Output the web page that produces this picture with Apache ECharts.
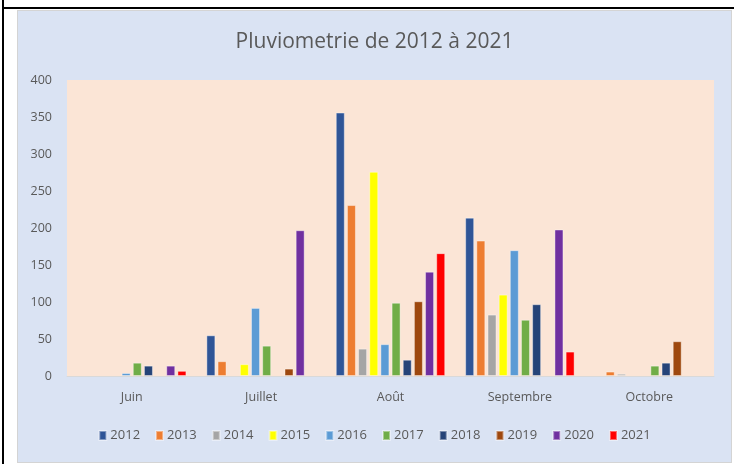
<!DOCTYPE html>
<html>
<head>
<meta charset="utf-8">
<script src="https://cdn.jsdelivr.net/npm/echarts@6/dist/echarts.min.js"></script>
<style>
  html, body { margin: 0; padding: 0; background: #ffffff; }
  body { width: 735px; height: 464px; position: relative; overflow: hidden; }
  /* bordures du tableau autour du graphique */
  .bord-gauche { position: absolute; left: 2px; top: 0; width: 2px; height: 464px; background: #000; }
  .bord-haut { position: absolute; left: 2px; top: 7px; width: 732px; height: 2px; background: #000; }
  #chart {
    position: absolute; left: 17px; top: 10px; width: 713px; height: 451px;
    background: #dae3f3; border: 1px solid #d4d4d4;
  }
</style>
</head>
<body>
<div class="bord-gauche"></div>
<div class="bord-haut"></div>
<div id="chart"></div>
<script>
// mois (categories)
const mois = ["Juin", "Juillet", "Août", "Septembre", "Octobre"];
// valeurs de pluie par annee (mm), null = pas de barre
const annees = ["2012", "2013", "2014", "2015", "2016", "2017", "2018", "2019", "2020", "2021"];
const pluie2012 = [null, 55, 356, 214, null];
const pluie2013 = [null, 20, 231, 183, 6];
const pluie2014 = [null, null, 37, 83, 3];
const pluie2015 = [null, 16, 276, 110, null];
const pluie2016 = [4, 92, 43, 170, null];
const pluie2017 = [18, 41, 99, 76, 14];
const pluie2018 = [14, null, 22, 97, 18];
const pluie2019 = [null, 10, 101, null, 47];
const pluie2020 = [14, 197, 141, 198, null];
const pluie2021 = [7, null, 166, 33, null];
const valeursY = [0, 50, 100, 150, 200, 250, 300, 350, 400];

const toutesValeurs = [pluie2012, pluie2013, pluie2014, pluie2015, pluie2016,
  pluie2017, pluie2018, pluie2019, pluie2020, pluie2021];
const couleurs = ["#2f5597", "#ed7d31", "#a5a5a5", "#ffff00", "#5b9bd5",
  "#70ad47", "#264478", "#9e480e", "#7030a0", "#ff0000"];

const chartInstance = echarts.init(document.getElementById("chart"), null, { renderer: "canvas" });

const series = annees.map((an, i) => {
  return {
    name: an,
    type: "bar",
    data: toutesValeurs[i],
    barWidth: 9,
    barGap: "24%",
    itemStyle: {
      color: couleurs[i],
      borderColor: "rgba(255,255,255,0.4)",
      borderWidth: 1
    }
  };
});

const option = {
  animation: false,
  textStyle: { fontFamily: "Open Sans" },
  title: {
    text: "Pluviometrie de 2012 à 2021",
    left: "center",
    top: 16,
    textStyle: {
      fontFamily: "Open Sans",
      fontSize: 21,
      fontWeight: "normal",
      color: "#595959"
    }
  },
  grid: {
    left: 49,
    top: 69,
    right: 17,
    bottom: 86,
    show: true,
    backgroundColor: "#fbe5d6",
    borderWidth: 0
  },
  legend: {
    data: annees,
    bottom: 15,
    left: "center",
    icon: "rect",
    itemWidth: 7,
    itemHeight: 9,
    itemGap: 15,
    textStyle: { color: "#595959", fontSize: 13, padding: [0, 0, 0, -1] }
  },
  xAxis: {
    type: "category",
    data: mois,
    axisLine: { lineStyle: { color: "#d9d9d9" } },
    axisTick: { show: false },
    axisLabel: { color: "#595959", fontSize: 12.5, margin: 15 }
  },
  yAxis: {
    type: "value",
    min: valeursY[0],
    max: valeursY[valeursY.length - 1],
    interval: 50,
    splitLine: { show: false },
    axisLine: { show: false },
    axisTick: { show: false },
    axisLabel: { color: "#595959", fontSize: 12.5, margin: 15 }
  },
  series: series
};

chartInstance.setOption(option);
</script>
</body>
</html>
